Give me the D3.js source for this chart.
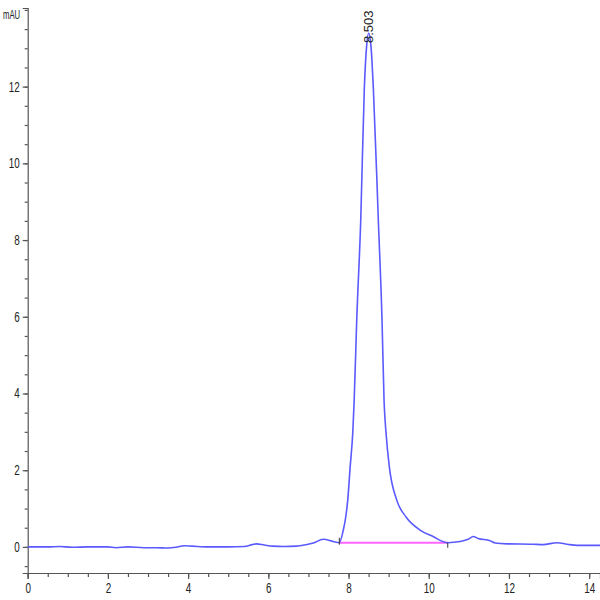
<!DOCTYPE html>
<html>
<head>
<meta charset="utf-8">
<script src="https://cdn.jsdelivr.net/npm/d3@7"></script>
<style>
  body { margin: 0; background: #fff; }
  text { font-family: "Liberation Sans Narrow", "Arial Narrow", "Liberation Sans", sans-serif; fill: #222; }
</style>
</head>
<body>
<div id="chart"></div>
<script>
// retention time (min) and absorbance (mAU)
var times = [0, 0.5, 0.8, 1.1, 1.5, 2.0, 2.2, 2.5, 2.9, 3.2, 3.5, 3.7, 3.9, 4.1, 4.5, 5.0, 5.4, 5.6, 5.7, 5.9, 6.1, 6.4, 6.7,
  6.79, 7.12, 7.37, 7.62, 7.77, 7.87, 7.93, 7.98, 8.04, 8.105, 8.14, 8.204, 8.304, 8.394, 8.45, 8.503,
  8.56, 8.618, 8.743, 8.835, 8.886, 8.935, 9.018, 9.202, 9.434, 9.783, 10.107, 10.474,
  10.78, 10.98, 11.11, 11.23, 11.53, 11.66, 11.95, 12.6, 12.85, 13.2, 13.45, 13.7, 14.27];
var mau = [0.0, 0.0, 0.01, -0.01, 0.0, 0.0, -0.02, 0.0, -0.02, -0.02, -0.03, -0.01, 0.03, 0.02, 0.0, 0.0, 0.01, 0.06, 0.08, 0.05, 0.02, 0.01, 0.02,
  0.03, 0.1, 0.2, 0.14, 0.11, 0.44, 0.78, 1.22, 2.08, 2.97, 3.8, 5.91, 8.51, 11.97, 13.05, 13.4,
  13.05, 11.97, 8.51, 5.91, 3.8, 2.97, 2.08, 1.22, 0.78, 0.44, 0.27, 0.11,
  0.14, 0.2, 0.27, 0.22, 0.16, 0.1, 0.08, 0.07, 0.06, 0.11, 0.07, 0.04, 0.04];

var xMajor = [0, 2, 4, 6, 8, 10, 12, 14];
var yMajor = [0, 2, 4, 6, 8, 10, 12];

// integration baseline of the main peak
var peakLabel = "8.503";
var peakTime = 8.503;
var baseStart = [7.77, 0.11];
var baseEnd = [10.474, 0.11];

var width = 600,
    height = 600;

var svg = d3.select("#chart").append("svg")
    .attr("width", width)
    .attr("height", height);

var x = d3.scaleLinear().domain([0, 14.27]).range([27.7, 600]);
var y = d3.scaleLinear().domain([-0.68, 14.05]).range([573, 8]);

var points = times.map(function(t, i) { return [t, mau[i]]; });

// squeeze labels to look like the narrow font of the original
function narrow(sel, perChar) {
  sel.each(function() {
    var n = this.textContent.length;
    d3.select(this).attr("textLength", n * perChar).attr("lengthAdjust", "spacingAndGlyphs");
  });
}

// axes: major ticks with labels, minor ticks without
svg.append("g")
    .attr("transform", "translate(0,573)")
    .call(d3.axisBottom(x).tickValues(d3.range(0, 14.3, 0.5)).tickSize(4).tickFormat(""))
    .call(function(g) { g.select(".domain").remove(); });

svg.append("g")
    .attr("class", "x-axis")
    .attr("transform", "translate(0,573)")
    .call(d3.axisBottom(x).tickValues(xMajor).tickSize(6).tickPadding(4).tickFormat(d3.format("d")));

svg.append("g")
    .attr("transform", "translate(27.7,0)")
    .call(d3.axisLeft(y).tickValues(d3.range(-0.5, 14.01, 0.5)).tickSize(3).tickFormat(""))
    .call(function(g) { g.select(".domain").remove(); });

svg.append("g")
    .attr("class", "y-axis")
    .attr("transform", "translate(27.7,0)")
    .call(d3.axisLeft(y).tickValues(yMajor).tickSize(5).tickPadding(3).tickFormat(d3.format("d")));

svg.selectAll(".domain, .tick line").attr("stroke", "#555").attr("stroke-width", 1.2);
svg.selectAll(".x-axis text, .y-axis text").style("font-size", "14px").call(narrow, 5.5);

svg.append("text")
    .attr("x", 3)
    .attr("y", 19)
    .style("font-size", "12px")
    .text("mAU")
    .call(narrow, 5.7);

// baseline of the integrated peak
svg.append("line")
    .attr("x1", x(baseStart[0])).attr("y1", y(baseStart[1]))
    .attr("x2", x(baseEnd[0])).attr("y2", y(baseEnd[1]))
    .attr("stroke", "#ff66ff")
    .attr("stroke-width", 2);

// chromatogram trace
var line = d3.line()
    .x(function(d) { return x(d[0]); })
    .y(function(d) { return y(d[1]); })
    .curve(d3.curveMonotoneX);

svg.append("path")
    .datum(points)
    .attr("fill", "none")
    .attr("stroke", "#5a5aff")
    .attr("stroke-width", 1.6)
    .attr("d", line);

// start / end markers of the integration
[baseStart, baseEnd].forEach(function(p, i) {
  svg.append("line")
      .attr("x1", x(p[0])).attr("x2", x(p[0]))
      .attr("y1", y(p[1]) - (i ? 0 : 5)).attr("y2", y(p[1]) + (i ? 5 : 2))
      .attr("stroke", "#333")
      .attr("stroke-width", 1);
});

// retention time label
svg.append("text")
    .attr("transform", "translate(" + (x(peakTime) + 4.5) + ",43) rotate(-90)")
    .style("font-size", "13px")
    .text(peakLabel);
</script>
</body>
</html>
